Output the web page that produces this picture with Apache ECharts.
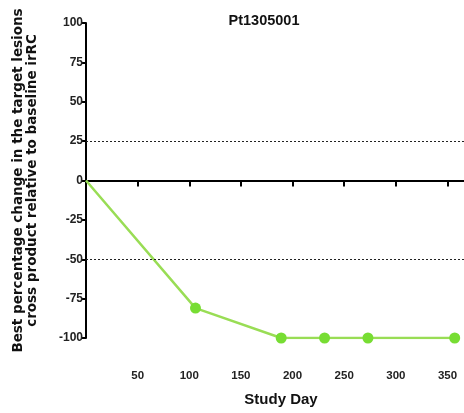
<!DOCTYPE html>
<html><head><meta charset="utf-8">
<script src="https://cdn.jsdelivr.net/npm/echarts@6/dist/echarts.min.js"></script>
<style>html,body{margin:0;padding:0;background:#fff}#c{width:464px;height:413px}</style>
</head><body><div id="c"></div>
<script>
const title = 'Pt1305001';
const xName = 'Study Day';
const yName = 'Best percentage change in the target lesions\ncross product relative to baseline irRC';
const xTicks = [50, 100, 150, 200, 250, 300, 350];
const studyDays = [0, 106, 189, 231, 273, 357];
const pctChange = [0, -81, -100, -100, -100, -100];
const refLines = [25, -50];

const chart = echarts.init(document.getElementById('c'));
const F = 'Arial, "Liberation Sans", sans-serif';
chart.setOption({
  animation: false,
  title: { text: title, left: 259, top: 8, textAlign: 'center',
    textStyle: { fontFamily: F, fontSize: 14.5, fontWeight: 'bold', color: '#111' } },
  grid: { left: 86, right: 0, top: 23, height: 315, containLabel: false },
  xAxis: [
    { type: 'value', min: 0, max: 366,
      axisLine: { onZero: true, lineStyle: { color: '#000', width: 2 } },
      axisTick: { show: true, inside: false, length: 6, customValues: xTicks, lineStyle: { color: '#000', width: 2 } },
      axisLabel: { show: false }, splitLine: { show: false } },
    { type: 'value', min: 0, max: 366, position: 'bottom',
      axisLine: { show: false, onZero: false }, axisTick: { show: false },
      splitLine: { show: false },
      axisLabel: { margin: 32, customValues: xTicks, fontFamily: F, fontSize: 11.5, fontWeight: 'bold', color: '#222' },
      name: xName, nameLocation: 'middle', nameGap: 54,
      nameTextStyle: { fontFamily: F, fontSize: 15, fontWeight: 'bold', color: '#111', padding: [0, 0, 0, 12] } }
  ],
  yAxis: { type: 'value', min: -100, max: 100, interval: 25,
    axisLine: { show: true, lineStyle: { color: '#000', width: 2 } },
    axisTick: { show: true, length: 4, lineStyle: { color: '#000', width: 2 } },
    axisLabel: { margin: 3, fontFamily: F, fontSize: 12, fontWeight: 'bold', color: '#222' },
    splitLine: { show: false },
    name: yName, nameLocation: 'middle', nameGap: 47, nameRotate: 90,
    nameTextStyle: { fontFamily: '"DejaVu Sans", sans-serif', fontSize: 13.5, fontWeight: 'bold', color: '#111', lineHeight: 14 } },
  series: [{
    type: 'line', xAxisIndex: 0,
    data: studyDays.map((d, i) => ({ value: [d, pctChange[i]], symbolSize: i === 0 ? 0 : 11 })),
    symbol: 'circle', showSymbol: true,
    lineStyle: { color: '#99dd55', width: 2.5 },
    itemStyle: { color: '#77dd33' },
    markLine: { silent: true, symbol: 'none', label: { show: false },
      lineStyle: { type: [2, 2], color: '#222', width: 1.2 },
      data: refLines.map(v => ({ yAxis: v })) }
  }]
});
</script></body></html>
